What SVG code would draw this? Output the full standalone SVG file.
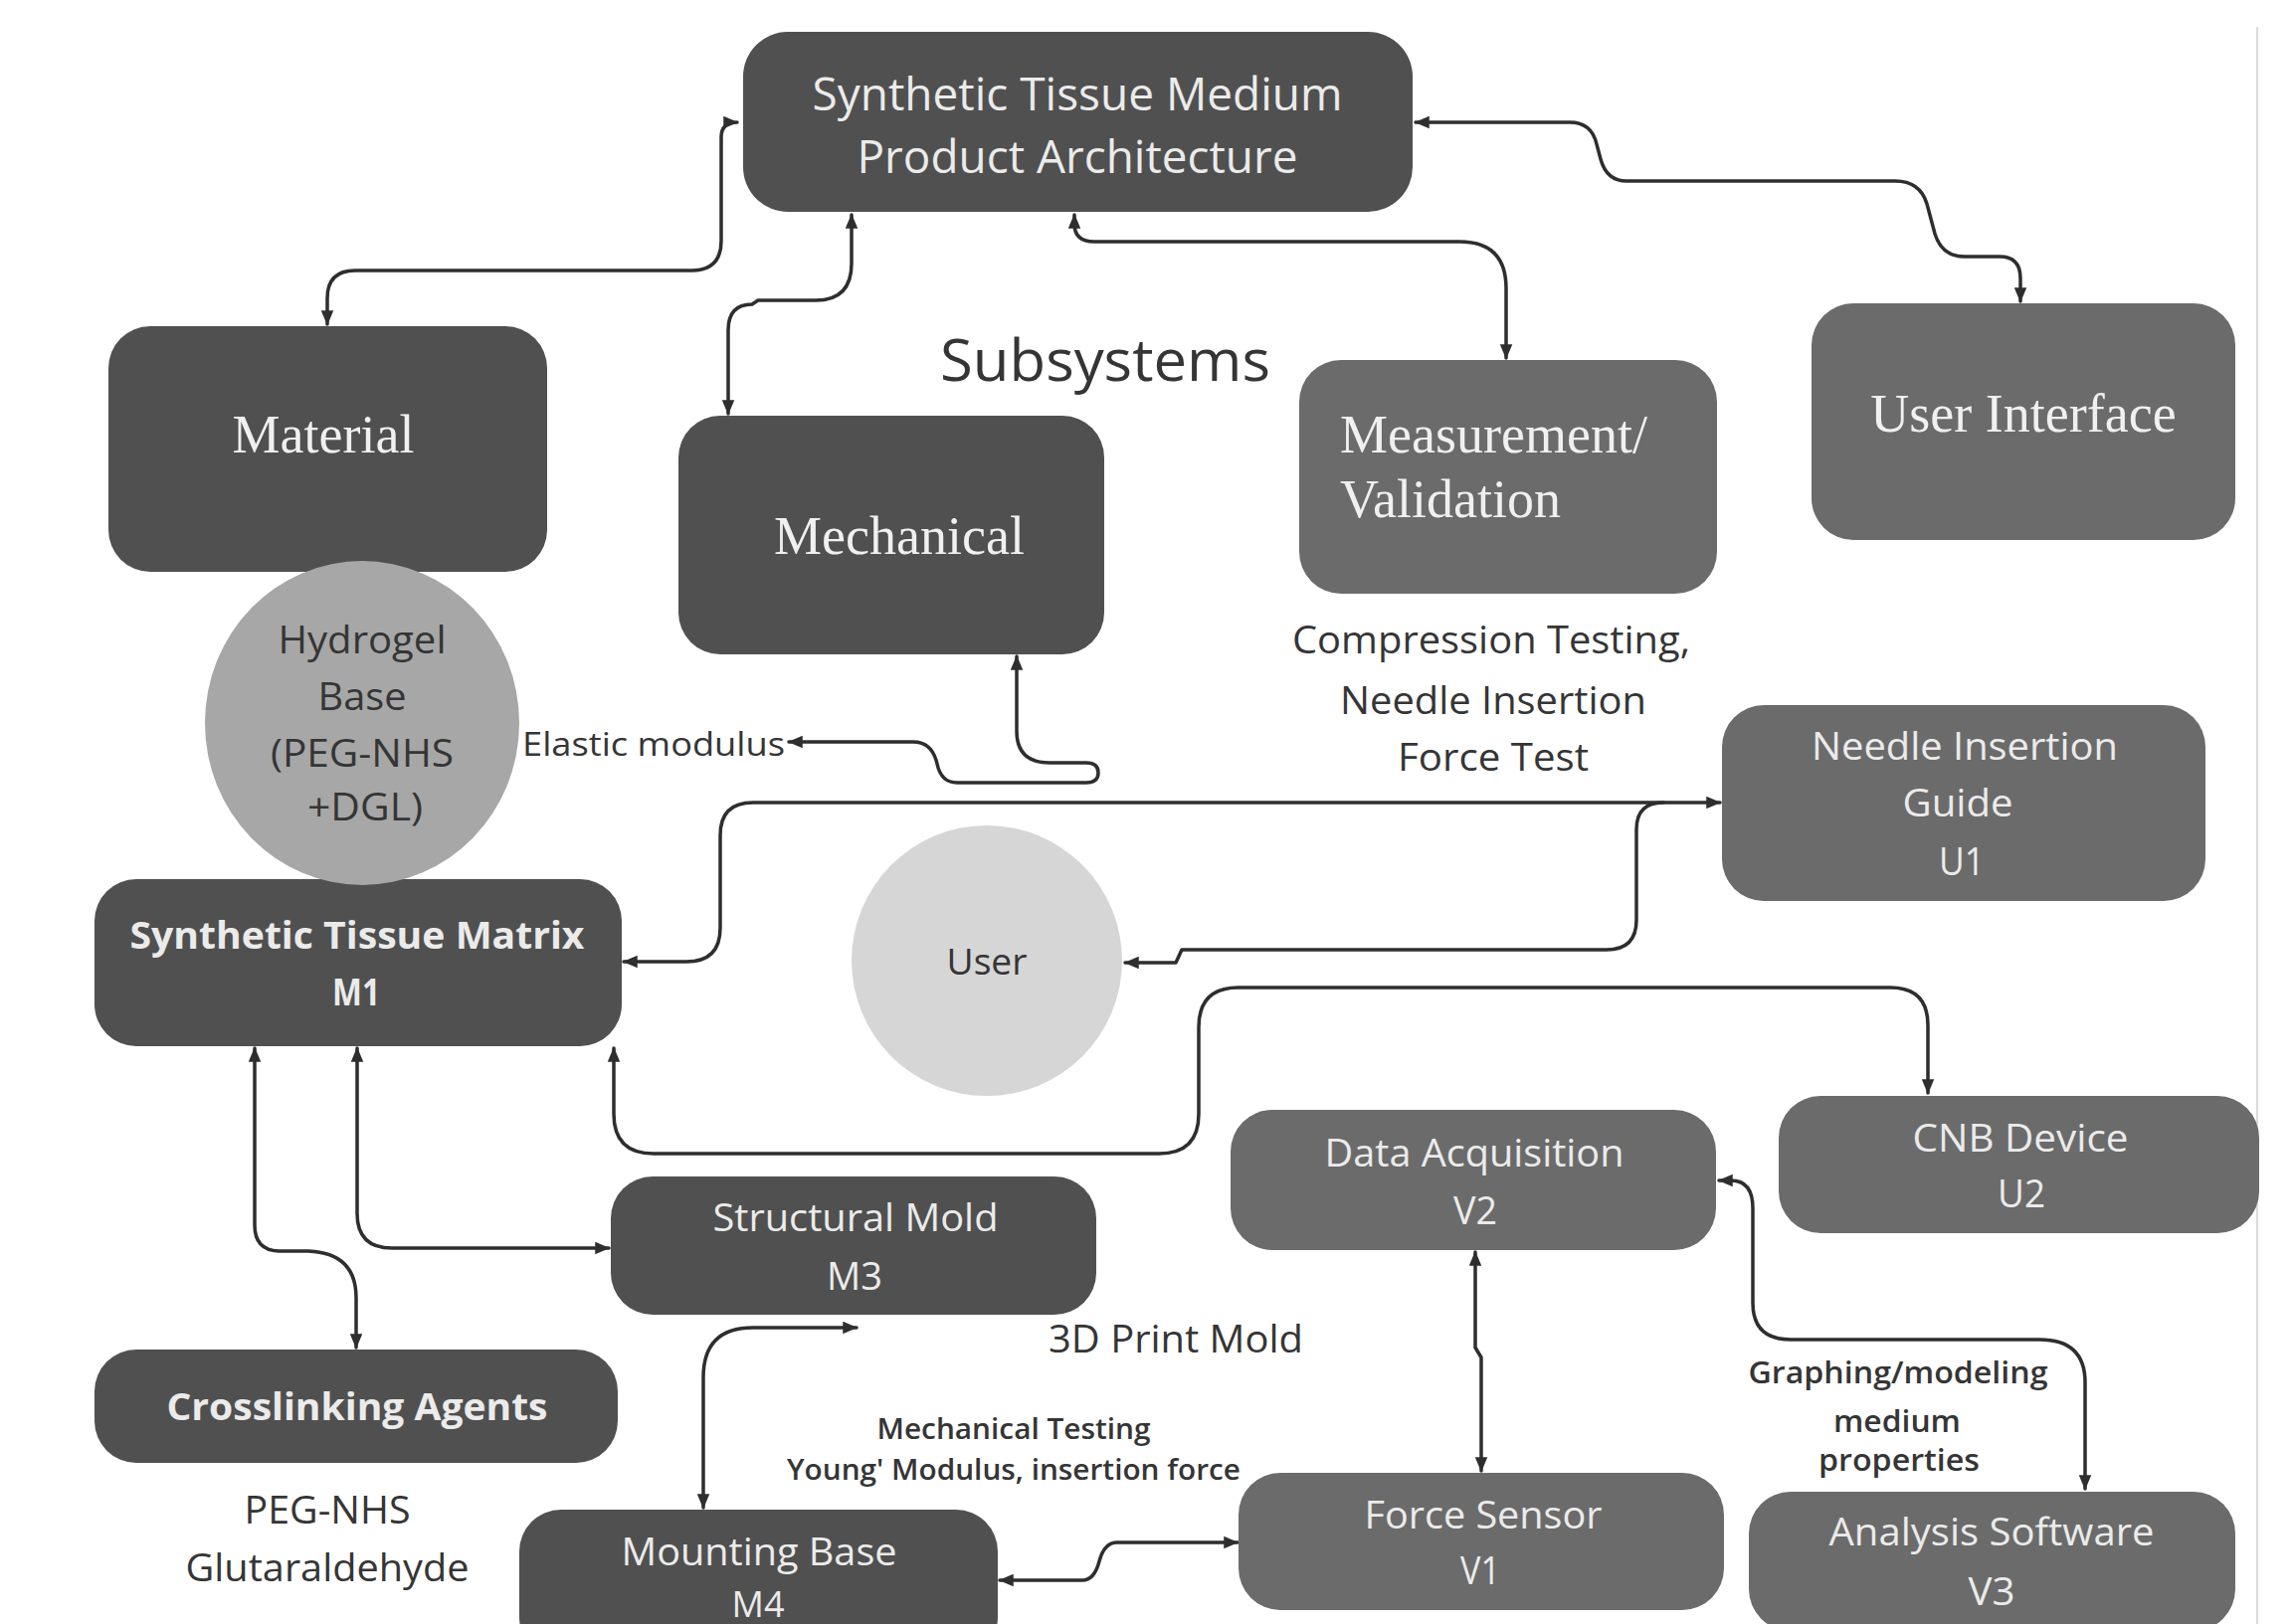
<svg xmlns="http://www.w3.org/2000/svg" width="2305" height="1633" viewBox="0 0 2305 1633">
<style>
.dk{fill:#505050}
.md{fill:#6b6b6b}
.wt{font-family:"Open Sans","Liberation Sans",sans-serif;fill:#ebebeb;text-anchor:middle}
.wb{font-family:"Open Sans","Liberation Sans",sans-serif;fill:#ebebeb;text-anchor:middle;font-weight:700}
.sf{font-family:"Liberation Serif","DejaVu Serif",serif;fill:#f0f0f0;font-size:54px}
.lb{font-family:"Open Sans","Liberation Sans",sans-serif;fill:#353535;text-anchor:middle}
.cn{fill:none;stroke:#2e2e2e;stroke-width:3.5;stroke-linecap:round;stroke-linejoin:round}
.bi{marker-start:url(#ah);marker-end:url(#ah)}
.one{marker-end:url(#ah)}
</style>
<defs>
<marker id="ah" viewBox="0 0 12 10" refX="11" refY="5" markerWidth="15" markerHeight="13" markerUnits="userSpaceOnUse" orient="auto-start-reverse">
<path d="M0,0 L12,5 L0,10 z" fill="#2e2e2e"/>
</marker>
</defs>
<rect width="2305" height="1633" fill="#ffffff"/>
<line x1="2269" y1="27" x2="2269" y2="1633" stroke="#dcdcdc" stroke-width="2"/>

<g id="connectors">
<path class="cn bi" d="M329,326 V300 Q329,272 357,272 H695 Q725,272 725,242 V138 Q725,123 741,123"/>
<path class="cn bi" d="M856,216 V265 Q856,302 820,302 H762 L756,306 Q732,306 732,332 V416"/>
<path class="cn bi" d="M1080,216 V225 Q1080,243 1100,243 H1467 Q1514,243 1514,290 V360"/>
<path class="cn bi" d="M1423,123 H1578 Q1600,123 1605,145 L1609,160 Q1615,182 1635,182 H1905 Q1930,182 1937,205 L1945,235 Q1952,258 1975,258 H2010 Q2031,258 2031,280 V303"/>
<path class="cn bi" d="M627,967 H690 Q724,967 724,933 V840 Q724,807 757,807 H1729"/>
<path class="cn one" d="M1672,807 Q1645,807 1645,834 V925 Q1645,955 1615,955 H1188 L1182,968 H1131"/>
<path class="cn bi" d="M617,1054 V1120 Q617,1160 657,1160 H1165 Q1205,1160 1205,1120 V1033 Q1205,993 1245,993 H1900 Q1938,993 1938,1031 V1099"/>
<path class="cn bi" d="M256,1054 V1232 Q256,1257 280,1258 H310 Q358,1260 358,1305 V1355"/>
<path class="cn bi" d="M359,1054 V1220 Q359,1255 394,1255 H612"/>
<path class="cn bi" d="M707,1516 V1385 Q707,1335 757,1335 H861"/>
<path class="cn bi" d="M1005,1589 H1088 Q1100,1589 1105,1570 Q1110,1551 1123,1551 H1244"/>
<path class="cn bi" d="M1483,1259 V1355 L1489,1365 V1479"/>
<path class="cn bi" d="M1728,1187 H1740 Q1762,1187 1762,1215 V1310 Q1762,1347 1800,1347 H2050 Q2096,1347 2096,1390 V1497"/>
<path class="cn bi" d="M1022,660 V735 Q1022,767 1055,767 H1092 Q1104,767 1104,777 Q1104,787 1092,787 H962 Q946,787 942,768 Q937,746 918,746 H793"/>
</g>

<g id="architecture">
<rect class="dk" x="747" y="32" width="673" height="181" rx="45"/>
<text class="wt" x="1083" y="111" font-size="46" textLength="533" lengthAdjust="spacingAndGlyphs">Synthetic Tissue Medium</text>
<text class="wt" x="1083" y="174" font-size="46" textLength="443" lengthAdjust="spacingAndGlyphs">Product Architecture</text>
</g>

<g id="subsystems-label">
<text class="lb" x="1111" y="383" font-size="58" textLength="332" lengthAdjust="spacingAndGlyphs">Subsystems</text>
</g>

<g id="material">
<rect class="dk" x="109" y="328" width="441" height="247" rx="42"/>
<text class="sf" x="325" y="455" text-anchor="middle">Material</text>
</g>

<g id="mechanical">
<rect class="dk" x="682" y="418" width="428" height="240" rx="42"/>
<text class="sf" x="904" y="557" text-anchor="middle">Mechanical</text>
</g>

<g id="measurement">
<rect class="md" x="1306" y="362" width="420" height="235" rx="42"/>
<text class="sf" x="1347" y="455">Measurement/</text>
<text class="sf" x="1347" y="520">Validation</text>
</g>

<g id="user-interface">
<rect class="md" x="1821" y="305" width="426" height="238" rx="42"/>
<text class="sf" x="2034" y="434" text-anchor="middle">User Interface</text>
</g>

<g id="m1">
<rect class="dk" x="95" y="884" width="530" height="168" rx="42"/>
<text class="wb" x="359" y="954" font-size="38" textLength="457" lengthAdjust="spacingAndGlyphs">Synthetic Tissue Matrix</text>
<text class="wb" x="358" y="1011" font-size="38" textLength="48" lengthAdjust="spacingAndGlyphs">M1</text>
</g>

<g id="hydrogel">
<ellipse cx="364" cy="727" rx="158" ry="163" fill="#a7a7a7"/>
<text class="lb" x="364" y="657" font-size="38" textLength="169" lengthAdjust="spacingAndGlyphs">Hydrogel</text>
<text class="lb" x="364" y="714" font-size="38" textLength="89" lengthAdjust="spacingAndGlyphs">Base</text>
<text class="lb" x="364" y="771" font-size="38" textLength="184" lengthAdjust="spacingAndGlyphs">(PEG-NHS</text>
<text class="lb" x="367" y="825" font-size="38" textLength="116" lengthAdjust="spacingAndGlyphs">+DGL)</text>
</g>

<g id="elastic-label">
<text class="lb" x="657" y="760" font-size="32" textLength="264" lengthAdjust="spacingAndGlyphs">Elastic modulus</text>
</g>

<g id="compression-label">
<text class="lb" x="1499" y="657" font-size="38" textLength="400" lengthAdjust="spacingAndGlyphs">Compression Testing,</text>
<text class="lb" x="1501" y="718" font-size="38" textLength="308" lengthAdjust="spacingAndGlyphs">Needle Insertion</text>
<text class="lb" x="1501" y="775" font-size="38" textLength="192" lengthAdjust="spacingAndGlyphs">Force Test</text>
</g>

<g id="user">
<circle cx="992" cy="966" r="136" fill="#d6d6d6"/>
<text class="lb" x="992" y="980" font-size="37" textLength="81" lengthAdjust="spacingAndGlyphs">User</text>
</g>

<g id="u1">
<rect class="md" x="1731" y="709" width="486" height="197" rx="42"/>
<text class="wt" x="1975" y="764" font-size="38" textLength="308" lengthAdjust="spacingAndGlyphs">Needle Insertion</text>
<text class="wt" x="1968" y="821" font-size="38" textLength="111" lengthAdjust="spacingAndGlyphs">Guide</text>
<text class="wt" x="1972" y="880" font-size="38" textLength="46" lengthAdjust="spacingAndGlyphs">U1</text>
</g>

<g id="u2">
<rect class="md" x="1788" y="1102" width="483" height="138" rx="42"/>
<text class="wt" x="2031" y="1158" font-size="38" textLength="217" lengthAdjust="spacingAndGlyphs">CNB Device</text>
<text class="wt" x="2032" y="1214" font-size="38" textLength="48" lengthAdjust="spacingAndGlyphs">U2</text>
</g>

<g id="v2">
<rect class="md" x="1237" y="1116" width="488" height="141" rx="42"/>
<text class="wt" x="1482" y="1173" font-size="38" textLength="301" lengthAdjust="spacingAndGlyphs">Data Acquisition</text>
<text class="wt" x="1483" y="1231" font-size="38" textLength="44" lengthAdjust="spacingAndGlyphs">V2</text>
</g>

<g id="m3">
<rect class="dk" x="614" y="1183" width="488" height="139" rx="42"/>
<text class="wt" x="860" y="1238" font-size="38" textLength="287" lengthAdjust="spacingAndGlyphs">Structural Mold</text>
<text class="wt" x="859" y="1297" font-size="38" textLength="56" lengthAdjust="spacingAndGlyphs">M3</text>
</g>

<g id="print-label">
<text class="lb" x="1182" y="1360" font-size="38" textLength="256" lengthAdjust="spacingAndGlyphs">3D Print Mold</text>
</g>

<g id="crosslinking">
<rect class="dk" x="95" y="1357" width="526" height="114" rx="42"/>
<text class="wb" x="359" y="1428" font-size="38" textLength="383" lengthAdjust="spacingAndGlyphs">Crosslinking Agents</text>
</g>

<g id="crosslinking-label">
<text class="lb" x="329" y="1532" font-size="38" textLength="167" lengthAdjust="spacingAndGlyphs">PEG-NHS</text>
<text class="lb" x="329" y="1590" font-size="38" textLength="285" lengthAdjust="spacingAndGlyphs">Glutaraldehyde</text>
</g>

<g id="mech-testing-label">
<text class="lb" x="1019" y="1447" font-size="29" font-weight="600" textLength="275" lengthAdjust="spacingAndGlyphs">Mechanical Testing</text>
<text class="lb" x="1019" y="1488" font-size="29" font-weight="600" textLength="456" lengthAdjust="spacingAndGlyphs">Young' Modulus, insertion force</text>
</g>

<g id="m4">
<rect class="dk" x="522" y="1518" width="481" height="150" rx="42"/>
<text class="wt" x="763" y="1574" font-size="38" textLength="277" lengthAdjust="spacingAndGlyphs">Mounting Base</text>
<text class="wt" x="762" y="1626" font-size="36" textLength="53" lengthAdjust="spacingAndGlyphs">M4</text>
</g>

<g id="v1">
<rect class="md" x="1245" y="1481" width="488" height="138" rx="42"/>
<text class="wt" x="1491" y="1537" font-size="38" textLength="239" lengthAdjust="spacingAndGlyphs">Force Sensor</text>
<text class="wt" x="1488" y="1593" font-size="38" textLength="40" lengthAdjust="spacingAndGlyphs">V1</text>
</g>

<g id="graphing-label">
<text class="lb" x="1908" y="1391" font-size="31" font-weight="600" textLength="301" lengthAdjust="spacingAndGlyphs">Graphing/modeling</text>
<text class="lb" x="1907" y="1440" font-size="31" font-weight="600" textLength="128" lengthAdjust="spacingAndGlyphs">medium</text>
<text class="lb" x="1909" y="1479" font-size="31" font-weight="600" textLength="162" lengthAdjust="spacingAndGlyphs">properties</text>
</g>

<g id="v3">
<rect class="md" x="1758" y="1500" width="489" height="140" rx="42"/>
<text class="wt" x="2002" y="1554" font-size="38" textLength="327" lengthAdjust="spacingAndGlyphs">Analysis Software</text>
<text class="wt" x="2002" y="1614" font-size="38" textLength="47" lengthAdjust="spacingAndGlyphs">V3</text>
</g>
</svg>
